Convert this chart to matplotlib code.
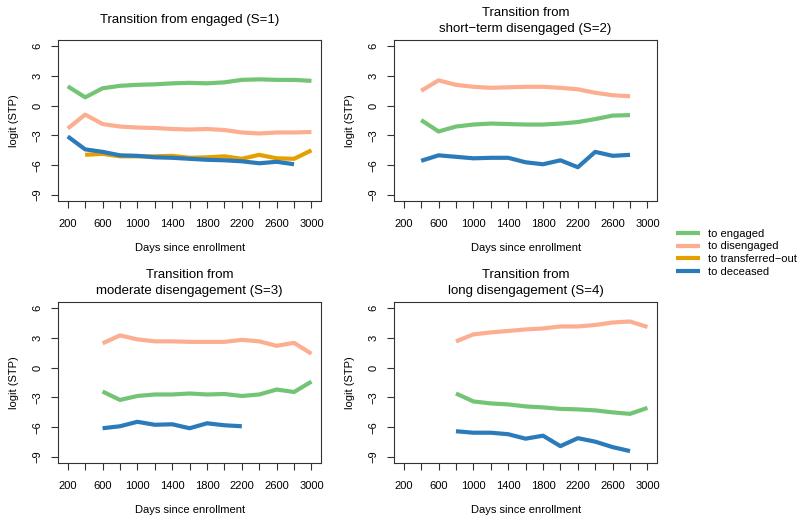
import numpy as np
import matplotlib
matplotlib.use("Agg")
import matplotlib.pyplot as plt

plt.rcParams['font.family'] = ['Liberation Sans', 'DejaVu Sans']

# days since enrollment
days = np.arange(200, 3001, 200)

titles = ["Transition from engaged (S=1)",
          "Transition from\nshort\u2212term disengaged (S=2)",
          "Transition from\nmoderate disengagement (S=3)",
          "Transition from\nlong disengagement (S=4)"]

series_names = ["to engaged", "to disengaged", "to transferred\u2212out", "to deceased"]
colors = ["#74c476", "#fcae91", "#e69f00", "#2b7bba"]

nan = np.nan
# logit(STP), one list per origin state, values on the 200-day grid
s1_engaged = [1.95, 0.84, 1.75, 2.0, 2.1, 2.15, 2.25, 2.3, 2.25, 2.35, 2.6, 2.65, 2.6, 2.6, 2.5]
s1_diseng = [-2.3, -0.9, -1.85, -2.1, -2.2, -2.25, -2.35, -2.4, -2.35, -2.45, -2.7, -2.8, -2.7, -2.7, -2.65]
s1_transf = [nan, -4.95, -4.85, -5.1, -5.1, -5.1, -5.05, -5.25, -5.2, -5.1, -5.35, -4.95, -5.3, -5.35, -4.5]
s1_deceased = [-3.1, -4.4, -4.65, -5.0, -5.05, -5.2, -5.25, -5.35, -5.45, -5.5, -5.6, -5.8, -5.65, -5.9, nan]

s2_engaged = [nan, -1.45, -2.6, -2.1, -1.9, -1.8, -1.85, -1.9, -1.9, -1.8, -1.65, -1.35, -1.0, -0.95, nan]
s2_diseng = [nan, 1.5, 2.55, 2.1, 1.9, 1.8, 1.85, 1.9, 1.9, 1.8, 1.65, 1.3, 1.05, 0.95, nan]
s2_transf = [nan] * 15
s2_deceased = [nan, -5.55, -5.0, -5.15, -5.3, -5.25, -5.25, -5.7, -5.9, -5.5, -6.2, -4.65, -5.05, -4.95, nan]

s3_engaged = [nan, nan, -2.4, -3.25, -2.85, -2.7, -2.7, -2.6, -2.7, -2.65, -2.85, -2.7, -2.2, -2.45, -1.4]
s3_diseng = [nan, nan, 2.45, 3.25, 2.85, 2.65, 2.65, 2.6, 2.6, 2.6, 2.8, 2.65, 2.2, 2.5, 1.4]
s3_transf = [nan] * 15
s3_deceased = [nan, nan, -6.1, -5.9, -5.45, -5.75, -5.7, -6.1, -5.6, -5.8, -5.9, nan, nan, nan, nan]

s4_engaged = [nan, nan, nan, -2.6, -3.4, -3.6, -3.7, -3.9, -4.0, -4.15, -4.2, -4.3, -4.5, -4.65, -4.05]
s4_diseng = [nan, nan, nan, 2.65, 3.35, 3.55, 3.7, 3.85, 3.95, 4.15, 4.15, 4.3, 4.55, 4.65, 4.1]
s4_transf = [nan] * 15
s4_deceased = [nan, nan, nan, -6.4, -6.55, -6.55, -6.7, -7.15, -6.85, -7.9, -7.1, -7.45, -8.0, -8.4, nan]

panels = [
    [s1_engaged, s1_diseng, s1_transf, s1_deceased],
    [s2_engaged, s2_diseng, s2_transf, s2_deceased],
    [s3_engaged, s3_diseng, s3_transf, s3_deceased],
    [s4_engaged, s4_diseng, s4_transf, s4_deceased],
]

xtick_labels = [str(d) if (d - 200) % 400 == 0 else "" for d in days]
yticks = [-9, -6, -3, 0, 3, 6]

fig = plt.figure(figsize=(8, 5.24), dpi=100)

# axes boxes in figure fractions: left, bottom, width, height
boxes = [(0.0725, 0.6164, 0.329, 0.307),
         (0.4925, 0.6164, 0.329, 0.307),
         (0.0725, 0.1164, 0.329, 0.307),
         (0.4925, 0.1164, 0.329, 0.307)]

handles = []
for i, (box, title, lines) in enumerate(zip(boxes, titles, panels)):
    ax = fig.add_axes(box)
    for vals, col, name in zip(lines, colors, series_names):
        h, = ax.plot(days, vals, color=col, lw=3.0, solid_capstyle='butt', label=name)
        if i == 0:
            handles.append(h)
    ax.set_xlim(88, 3112)
    ax.set_ylim(-9.6, 6.6)
    ax.set_xticks(days)
    ax.set_xticklabels(xtick_labels)
    ax.set_yticks(yticks)
    ax.set_yticklabels([str(v).replace("-", "\u2212") for v in yticks], rotation=90, va='center')
    ax.tick_params(labelsize=8, length=5, width=0.8, color='#333333', pad=6)
    ax.tick_params(axis='x', pad=8)
    for sp in ax.spines.values():
        sp.set_linewidth(0.8)
        sp.set_color('#333333')
    ax.set_xlabel("Days since enrollment", fontsize=8, labelpad=10)
    ax.set_ylabel("logit (STP)", fontsize=8, labelpad=10)
    # title lines placed like R's main= (multi-line titles sit lower)
    parts = title.split("\n")
    offsets = [14.4] if len(parts) == 1 else [19.8, 7.9]
    for txt, off in zip(parts, offsets):
        ax.annotate(txt, xy=(0.5, 1), xycoords='axes fraction',
                    xytext=(0, off), textcoords='offset points',
                    ha='center', va='center', fontsize=9.5)

fig.legend(handles=handles, labels=series_names, loc='upper left',
           bbox_to_anchor=(0.84, 0.572), frameon=False, fontsize=8,
           handlelength=2.1, handletextpad=0.7, labelspacing=0.25, borderaxespad=0)

fig.savefig("out.png", dpi=100)
